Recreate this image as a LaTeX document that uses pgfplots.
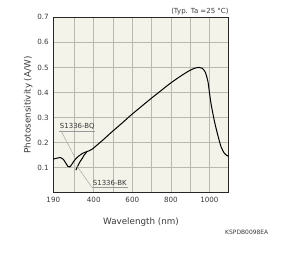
\documentclass[border=0pt]{standalone}
\usepackage{pgfplots}
\pgfplotsset{compat=1.18}
\usepackage{fontspec}
\setmainfont{DejaVu Sans}
\definecolor{bgc}{HTML}{F4F3E9}
\definecolor{gridc}{HTML}{B9B9B0}
\definecolor{txt}{HTML}{3A3A3A}
\begin{document}
\begin{tikzpicture}[x=1bp,y=1bp]
\path[use as bounding box,fill=white] (0,0) rectangle (300,254);
\begin{axis}[
  at={(53.3bp,61.3bp)}, anchor=south west,
  scale only axis, width=175.4bp, height=175.4bp,
  xmin=190, xmax=1100, ymin=0, ymax=0.7,
  axis background/.style={fill=bgc},
  xtick={190,400,600,800,1000},
  minor xtick={300,400,500,600,700,800,900,1000},
  ytick={0.1,0.2,0.3,0.4,0.5,0.6},
  extra y ticks={0.7}, extra y tick style={grid=none},
  yticklabel style={/pgf/number format/fixed,/pgf/number format/precision=1},
  xticklabel style={/pgf/number format/1000 sep={}},
  /pgf/number format/assume math mode=true,
  ymajorgrids, xminorgrids,
  grid style={gridc, line width=0.6pt},
  minor grid style={gridc, line width=0.6pt},
  tick style={draw=none},
  axis line style={black!85, line width=0.8pt},
  ticklabel style={font=\fontsize{7.2}{8}\selectfont, text=txt},
  xticklabel style={yshift=-1bp},
  yticklabel style={xshift=-1bp},
  xlabel={Wavelength (nm)},
  ylabel={Photosensitivity (A/W)},
  label style={font=\fontsize{8.8}{10}\selectfont, text=txt},
  xlabel style={yshift=-8bp},
  ylabel style={yshift=-2bp},
  clip=false,
]
\addplot[black, line width=1pt, smooth, tension=0.4] coordinates {
(190,0.134) (210,0.138) (227,0.140) (242,0.133) (255,0.118) (266,0.105) (275,0.103) (285,0.112) (297,0.126) (310,0.138) (325,0.148) (342,0.157) (360,0.163) (378,0.168) (392,0.174) (420,0.192) (450,0.212) (490,0.240) (550,0.280) (592,0.309) (650,0.346) (694,0.374) (750,0.408) (796,0.436) (850,0.465) (898,0.488) (925,0.497) (945,0.500) (962,0.497) (978,0.482) (992,0.445) (1000,0.400) (1009,0.352) (1026,0.285) (1043,0.231) (1060,0.184) (1077,0.158) (1090,0.149) (1100,0.145)
};
\addplot[black, line width=1pt, smooth, tension=0.4] coordinates {
(307,0.090) (317,0.107) (329,0.124) (341,0.138) (351,0.151) (363,0.162)
};
\draw[gray!80, line width=0.4pt] (axis cs:221,0.247) -- (axis cs:406,0.247);
\draw[gray!80, line width=0.4pt] (axis cs:230,0.247) -- (axis cs:303,0.140);
\node[anchor=south west, inner sep=0.5bp, font=\fontsize{7}{8}\selectfont, text=txt] at (axis cs:221,0.249) {S1336-BQ};
\draw[gray!80, line width=0.4pt] (axis cs:389,0.023) -- (axis cs:575,0.023);
\draw[gray!80, line width=0.4pt] (axis cs:389,0.023) -- (axis cs:312,0.107);
\node[anchor=south west, inner sep=0.5bp, font=\fontsize{7}{8}\selectfont, text=txt] at (axis cs:392,0.025) {S1336-BK};
\node[anchor=south east, inner sep=0pt, font=\fontsize{7}{8}\selectfont, text=txt] at (rel axis cs:1,1) [yshift=2bp] {(Typ. Ta =25 °C)};
\end{axis}
\node[anchor=west, inner sep=0pt, font=\fontsize{6}{7}\selectfont, text=txt] at (225,22) {KSPDB0098EA};
\end{tikzpicture}
\end{document}
